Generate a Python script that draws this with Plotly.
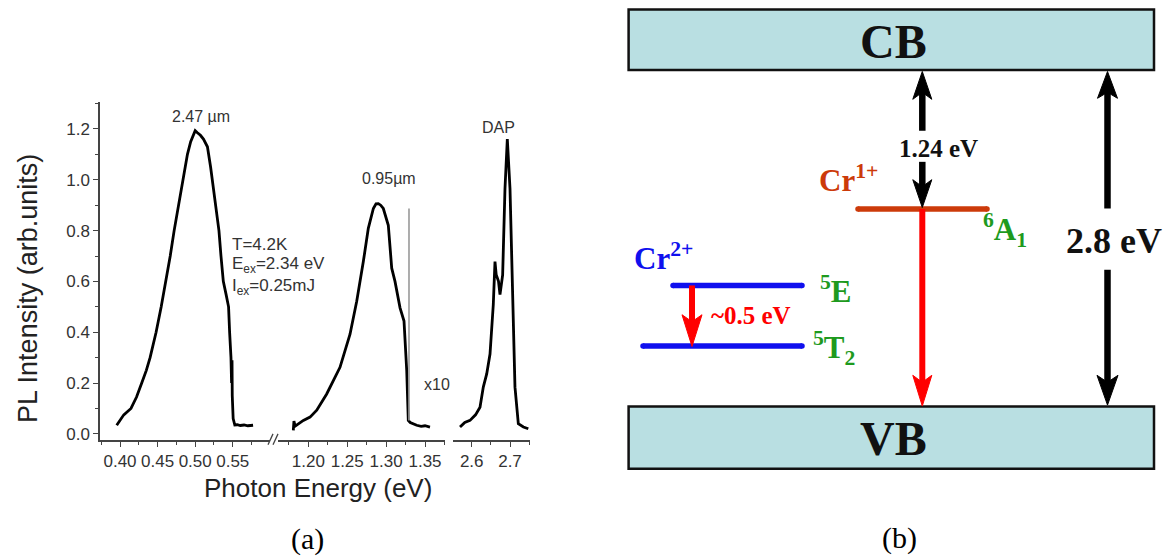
import plotly.graph_objects as go

W, H = 1174, 560

# ---------------- Panel (a) data: PL spectrum ----------------
e_low = [0.3956, 0.400, 0.405, 0.4146, 0.422, 0.4289, 0.435, 0.440, 0.448, 0.4548, 0.461,
         0.4668, 0.472, 0.4778, 0.483, 0.4897, 0.494, 0.4975, 0.500, 0.503, 0.507, 0.511,
         0.5163, 0.5205, 0.5276, 0.5316, 0.5343, 0.5374, 0.5410, 0.5444, 0.5458, 0.5476,
         0.5484, 0.5490, 0.5493, 0.5505, 0.5527, 0.556, 0.560, 0.565, 0.570, 0.577]
i_low = [0.034, 0.055, 0.075, 0.10, 0.145, 0.20, 0.25, 0.30, 0.40, 0.50, 0.60,
         0.70, 0.80, 0.90, 1.00, 1.10, 1.15, 1.175, 1.193, 1.185, 1.175, 1.16,
         1.13, 1.05, 0.90, 0.80, 0.70, 0.60, 0.55, 0.50, 0.40, 0.30,
         0.20, 0.29, 0.15, 0.06, 0.035, 0.036, 0.033, 0.035, 0.032, 0.034]

e_mid = [1.1807, 1.1815, 1.1830, 1.1936, 1.2022, 1.2108, 1.2236, 1.2407, 1.2536, 1.2622,
         1.2707, 1.2771, 1.2836, 1.2870, 1.2900, 1.2930, 1.2964, 1.3028, 1.3072, 1.3114,
         1.3179, 1.3230, 1.3265, 1.3285, 1.3310, 1.3393, 1.3450, 1.3500, 1.3564]
i_mid = [0.014, 0.050, 0.030, 0.053, 0.066, 0.093, 0.157, 0.262, 0.392, 0.522,
         0.678, 0.809, 0.887, 0.905, 0.906, 0.900, 0.887, 0.821, 0.652, 0.600,
         0.496, 0.444, 0.249, 0.053, 0.045, 0.034, 0.030, 0.032, 0.027]

e_spike = [1.3294, 1.3294]
i_spike = [0.053, 0.887]

e_high = [2.5695, 2.5820, 2.5956, 2.6100, 2.6217, 2.6303, 2.6392, 2.6478, 2.6564, 2.6608,
          2.6640, 2.6700, 2.6739, 2.6808, 2.6869, 2.6930, 2.7000, 2.7061, 2.7130, 2.7217,
          2.7350, 2.7478]
i_high = [0.027, 0.045, 0.053, 0.075, 0.105, 0.184, 0.236, 0.314, 0.509, 0.678,
          0.626, 0.600, 0.548, 0.626, 0.965, 1.160, 0.965, 0.574, 0.184, 0.040,
          0.027, 0.020]

y_ticks = [0.0, 0.2, 0.4, 0.6, 0.8, 1.0, 1.2]
x1_ticks = [0.40, 0.45, 0.50, 0.55]
x2_ticks = [1.20, 1.25, 1.30, 1.35]
x3_ticks = [2.6, 2.7]

# ---------------- Panel (b) labels ----------------
band_labels = ["CB", "VB"]
gap_labels = ["1.24 eV", "2.8 eV", "~0.5 eV"]
ion_labels = ["Cr<sup>1+</sup>", "Cr<sup>2+</sup>"]
state_labels = ["<sup>6</sup>A<sub>1</sub>", "<sup>5</sup>E", "<sup>5</sup>T<sub>2</sub>"]


def X(px):
    return px / W


def Y(py):
    return 1 - py / H


AX = "#444444"
TXT = "#333333"
SANS = "Liberation Sans, Arial, sans-serif"
SERIF = "Liberation Serif, Times New Roman, serif"

fig = go.Figure()
fig.add_trace(go.Scatter(x=e_low, y=i_low, mode="lines", xaxis="x", yaxis="y",
                         line=dict(color="black", width=2.8), hoverinfo="skip"))
fig.add_trace(go.Scatter(x=e_mid, y=i_mid, mode="lines", xaxis="x2", yaxis="y",
                         line=dict(color="black", width=2.8), hoverinfo="skip"))
fig.add_trace(go.Scatter(x=e_spike, y=i_spike, mode="lines", xaxis="x2", yaxis="y",
                         line=dict(color="#999999", width=1.6), hoverinfo="skip"))
fig.add_trace(go.Scatter(x=e_high, y=i_high, mode="lines", xaxis="x3", yaxis="y",
                         line=dict(color="black", width=2.8), hoverinfo="skip"))


def xax(domain, rng, ticks, labels, minor_dtick, minor_tick0):
    return dict(domain=domain, range=rng, anchor="y", showline=True, linecolor=AX,
                linewidth=1.5, ticks="outside", ticklen=5, tickwidth=1.3, tickcolor=AX,
                tickvals=ticks, ticktext=labels, showgrid=False, zeroline=False,
                tickfont=dict(family=SANS, size=17, color=TXT), fixedrange=True,
                minor=dict(ticks="outside", ticklen=3, tickwidth=1.2, tickcolor=AX,
                           dtick=minor_dtick, tick0=minor_tick0, showgrid=False))


fig.update_layout(
    width=W, height=H, margin=dict(l=0, r=0, t=0, b=0),
    paper_bgcolor="white", plot_bgcolor="rgba(0,0,0,0)", showlegend=False,
    xaxis=xax([X(100), X(270)], [0.3734, 0.5995], x1_ticks,
              [f"{v:.2f}" for v in x1_ticks], 0.025, 0.4),
    xaxis2=xax([X(278), X(445)], [1.1610, 1.3757], x2_ticks,
               [f"{v:.2f}" for v in x2_ticks], 0.025, 1.2),
    xaxis3=xax([X(453), X(530)], [2.5512, 2.7522], x3_ticks,
               [f"{v:.1f}" for v in x3_ticks], 0.05, 2.6),
    yaxis=dict(domain=[Y(443), Y(103)], range=[-0.0234, 1.305], anchor="x",
               showline=True, linecolor=AX, linewidth=1.5, ticks="outside", ticklen=5,
               tickwidth=1.3, tickcolor=AX, tickvals=y_ticks,
               ticktext=[f"{v:.1f}" for v in y_ticks], showgrid=False, zeroline=False,
               tickfont=dict(family=SANS, size=17, color=TXT), fixedrange=True,
               minor=dict(ticks="outside", ticklen=3, tickwidth=1.2, tickcolor=AX,
                          dtick=0.1, tick0=0, showgrid=False)),
)

shapes = []
annots = []

# axis break marks
for dx in (0, 5):
    shapes.append(dict(type="line", xref="paper", yref="paper",
                       x0=X(268 + dx), y0=Y(448), x1=X(273 + dx), y1=Y(437),
                       line=dict(color=AX, width=1.3)))


def note(text, x, y, size, color=TXT, family=SANS, xanchor="center", weight="normal", angle=0):
    annots.append(dict(text=text, x=X(x), y=Y(y), xref="paper", yref="paper",
                       showarrow=False, xanchor=xanchor, yanchor="middle", textangle=angle,
                       font=dict(family=family, size=size, color=color, weight=weight)))


# panel (a) texts
note("PL Intensity (arb.units)", 28, 291, 27, color="#222", angle=-90)
note("Photon Energy (eV)", 318, 492, 26, color="#222")
note("2.47 µm", 201, 117, 16)
note("T=4.2K", 230, 246, 17, xanchor="left")
note("E<sub>ex</sub>=2.34 eV", 230, 267, 17, xanchor="left")
note("I<sub>ex</sub>=0.25mJ", 230, 289, 17, xanchor="left")
note("0.95µm", 389, 180, 16)
note("x10", 437, 387, 16)
note("DAP", 498, 128, 16)
note("(a)", 307, 543, 30, color="black", family=SERIF)
note("(b)", 899, 542, 30, color="black", family=SERIF)

# ---------------- Panel (b): band diagram ----------------
FILL = "#b9dfe2"
for (y0, y1), lab, yc in zip([(9.5, 70.5), (409.3, 472)], band_labels, [41.7, 441.7]):
    shapes.append(dict(type="rect", xref="paper", yref="paper", x0=X(628.6), x1=X(1154),
                       y0=Y(y1), y1=Y(y0), fillcolor=FILL, line=dict(color="#111", width=2.5),
                       layer="below"))
    note(lab, 893, yc, 48, color="#111", family=SERIF, weight="bold")

ORANGE = "#cc3a0a"
BLUE = "#1010ee"
GREEN = "#1e9a1e"
RED = "#ff0000"


def hline(x0, x1, y, color, w=5.5):
    shapes.append(dict(type="line", xref="paper", yref="paper", x0=X(x0), x1=X(x1),
                       y0=Y(y), y1=Y(y), line=dict(color=color, width=w)))
    r = w / 2
    for xc in (x0, x1):  # rounded line caps
        shapes.append(dict(type="circle", xref="paper", yref="paper",
                           x0=X(xc - r), x1=X(xc + r), y0=Y(y + r), y1=Y(y - r),
                           fillcolor=color, line=dict(width=0)))


def vline(x, y0, y1, color, w=6.5):
    shapes.append(dict(type="line", xref="paper", yref="paper", x0=X(x), x1=X(x),
                       y0=Y(y0), y1=Y(y1), line=dict(color=color, width=w)))


def head(x, tip, direction, color, L=28, w=19, N=21):
    # direction +1: pointing up (head body below tip); -1: pointing down
    d = direction
    pts = [(x, tip), (x - w / 2, tip + d * L), (x, tip + d * N), (x + w / 2, tip + d * L)]
    path = "M " + " L ".join(f"{X(px):.5f},{Y(py):.5f}" for px, py in pts) + " Z"
    shapes.append(dict(type="path", xref="paper", yref="paper", path=path,
                       fillcolor=color, line=dict(color=color, width=1)))


# energy levels
hline(858, 987, 210.5, ORANGE)
hline(673, 802, 287.5, BLUE)
hline(643, 802, 348.5, BLUE)

# 1.24 eV double arrow
vline(922.3, 88, 131.7, "black")
head(922.3, 72, +1, "black")
vline(922.3, 163, 194, "black")
head(922.3, 209, -1, "black")
# red recombination arrow
vline(922.3, 210.5, 388, RED, 6)
head(922.3, 409, -1, RED, L=31, w=19, N=24)
# 2.8 eV double arrow
vline(1107.5, 88, 210, "black")
head(1107.5, 72, +1, "black", L=27, w=20)
vline(1107.5, 271.7, 390, "black")
head(1107.5, 408, -1, "black", L=30, w=21, N=23)
# ~0.5 eV arrow
vline(692, 287.5, 326, RED, 6)
head(692, 349, -1, RED, L=32, w=20, N=25)

note(gap_labels[0], 938, 150, 25, color="#111", family=SERIF, weight="bold")
note(gap_labels[1], 1114, 243, 36, color="#111", family=SERIF, weight="bold")
note(gap_labels[2], 751, 318, 25, color=RED, family=SERIF, weight="bold")
note(ion_labels[0], 817, 180, 31, color=ORANGE, family=SERIF, xanchor="left", weight="bold")
note(ion_labels[1], 632, 258, 31, color=BLUE, family=SERIF, xanchor="left", weight="bold")
note(state_labels[0], 981, 232, 31, color=GREEN, family=SERIF, xanchor="left", weight="bold")
note(state_labels[1], 818, 292, 31, color=GREEN, family=SERIF, xanchor="left", weight="bold")
note(state_labels[2], 811, 350, 31, color=GREEN, family=SERIF, xanchor="left", weight="bold")

fig.update_layout(shapes=shapes, annotations=annots)
fig.write_html("out.html")
